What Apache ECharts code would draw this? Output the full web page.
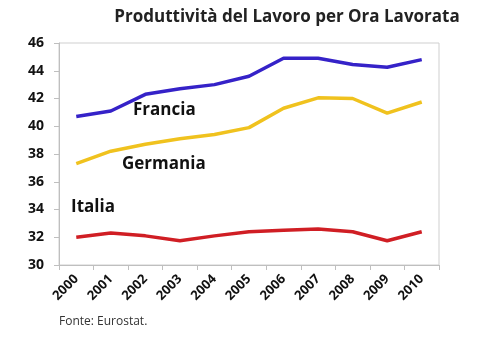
<!DOCTYPE html>
<html><head><meta charset="utf-8">
<script src="https://cdn.jsdelivr.net/npm/echarts@6/dist/echarts.min.js"></script>
<style>html,body{margin:0;padding:0;background:#fff}#c{width:500px;height:340px}</style>
</head><body><div id="c"></div>
<script>
const years = ['2000','2001','2002','2003','2004','2005','2006','2007','2008','2009','2010'];
const francia = [40.7, 41.1, 42.3, 42.7, 43.0, 43.6, 44.9, 44.9, 44.45, 44.25, 44.8];
const germania = [37.3, 38.2, 38.7, 39.1, 39.4, 39.9, 41.3, 42.05, 42.0, 40.95, 41.75];
const italia = [32.0, 32.3, 32.1, 31.75, 32.1, 32.4, 32.5, 32.6, 32.4, 31.75, 32.4];
const yTicks = [30, 32, 34, 36, 38, 40, 42, 44, 46];

const chart = echarts.init(document.getElementById('c'));
const F = '"Open Sans", "Liberation Sans", sans-serif';
function ser(name, data, color) {
  return { name, type: 'line', data, symbol: 'none', smooth: false,
    lineStyle: { color, width: 3.5 }, itemStyle: { color } };
}
chart.setOption({
  animation: false,
  title: { text: 'Produttività del Lavoro per Ora Lavorata', left: 282, top: 4, textAlign: 'center',
    textStyle: { fontFamily: F, fontWeight: 'bold', fontSize: 17, color: '#222' } },
  grid: { left: 59, right: 61, top: 43, bottom: 75, show: true, borderColor: '#cfcfcf', borderWidth: 1 },
  xAxis: { type: 'category', data: years, boundaryGap: true,
    axisLine: { lineStyle: { color: '#bfbfbf' } },
    axisTick: { show: true, length: 5, lineStyle: { color: '#bfbfbf' } },
    axisLabel: { rotate: 45, fontFamily: F, fontWeight: 'bold', fontSize: 13, color: '#111', margin: 12 },
    splitLine: { show: false } },
  yAxis: { type: 'value', min: yTicks[0], max: yTicks[yTicks.length-1], interval: 2,
    axisLine: { show: true, lineStyle: { color: '#bfbfbf' } },
    axisTick: { show: true, length: 5, lineStyle: { color: '#bfbfbf' } },
    axisLabel: { fontFamily: F, fontWeight: 'bold', fontSize: 14, color: '#111', margin: 15 },
    splitLine: { show: false } },
  graphic: [
    { type: 'text', left: 133, top: 102, style: { text: 'Francia', font: 'bold 17px ' + F, fill: '#111' } },
    { type: 'text', left: 122, top: 156, style: { text: 'Germania', font: 'bold 17px ' + F, fill: '#111' } },
    { type: 'text', left: 71, top: 199, style: { text: 'Italia', font: 'bold 17px ' + F, fill: '#111' } },
    { type: 'text', left: 59, top: 316, style: { text: 'Fonte: Eurostat.', font: '12px ' + F, fill: '#333' } }
  ],
  series: [ser('Francia', francia, '#3522c8'), ser('Germania', germania, '#f0c21e'), ser('Italia', italia, '#d01e24')]
});
</script></body></html>
